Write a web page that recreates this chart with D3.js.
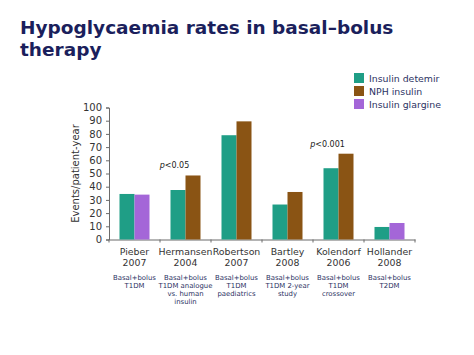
<!DOCTYPE html>
<html><head><meta charset="utf-8">
<script src="https://cdn.jsdelivr.net/npm/d3@7"></script>
<style>body{margin:0;background:#fff}svg{display:block}text{font-family:"DejaVu Sans",Verdana,sans-serif}</style>
</head><body>
<script>
const categories = ["Pieber", "Hermansen", "Robertson", "Bartley", "Kolendorf", "Hollander"];
const years = ["2007", "2004", "2007", "2008", "2006", "2008"];
const subLabels = [
  ["Basal+bolus", "T1DM"],
  ["Basal+bolus", "T1DM analogue", "vs. human", "insulin"],
  ["Basal+bolus", "T1DM", "paediatrics"],
  ["Basal+bolus", "T1DM 2-year", "study"],
  ["Basal+bolus", "T1DM", "crossover"],
  ["Basal+bolus", "T2DM"]
];
const seriesNames = ["Insulin detemir", "NPH insulin", "Insulin glargine"];
const detemirValues = [34.5, 37.5, 79, 26.5, 54, 9.5];
const comparatorValues = [34, 48.5, 89.5, 36, 65, 12.5];
const comparatorSeries = ["Insulin glargine", "NPH insulin", "NPH insulin", "NPH insulin", "NPH insulin", "Insulin glargine"];
const yTicks = [0, 10, 20, 30, 40, 50, 60, 70, 80, 90, 100];
const pLabels = [{cat: "Hermansen", text: "0.05", y: 48.5}, {cat: "Kolendorf", text: "0.001", y: 65}];

const colors = {"Insulin detemir": "#1f9e86", "NPH insulin": "#8a5414", "Insulin glargine": "#a466d8"};
const W = 474, H = 355;
const svg = d3.select("body").append("svg").attr("width", W).attr("height", H);

// Title
const title = svg.append("text").attr("x", 20).attr("y", 34)
  .attr("fill", "#1b1f5c").attr("font-weight", "bold").attr("font-size", 18.5);
title.append("tspan").attr("x", 20).attr("y", 34).text("Hypoglycaemia rates in basal\u2013bolus");
title.append("tspan").attr("x", 20).attr("y", 56).text("therapy");

const x = d3.scaleBand().domain(categories).range([109, 415]).padding(0);
const y = d3.scaleLinear().domain([0, 100]).range([239.5, 107.5]);
const barW = 15;

const axisColor = "#6b6b6b";
// y axis
const yAxis = svg.append("g").attr("transform", "translate(109,0)")
  .call(d3.axisLeft(y).tickValues(yTicks).tickSize(3).tickPadding(4));
yAxis.select(".domain").attr("stroke", axisColor);
yAxis.selectAll(".tick line").attr("stroke", axisColor);
yAxis.selectAll(".tick text").attr("font-size", 10).attr("fill", "#333").attr("font-family", "DejaVu Sans, Verdana, sans-serif");

// x axis line & boundary ticks
const xAxis = svg.append("g").attr("transform", `translate(0,${y(0)})`)
  .call(d3.axisBottom(x).tickSize(0).tickFormat(""));
xAxis.select(".domain").attr("stroke", axisColor);
const bounds = categories.map(c => x(c)).concat([x.range()[1]]);
svg.append("g").selectAll("line").data(bounds).join("line")
  .attr("x1", d => d).attr("x2", d => d).attr("y1", y(0)).attr("y2", y(0) + 3)
  .attr("stroke", axisColor);

// bars
const groups = svg.append("g").selectAll("g").data(categories).join("g");
groups.append("rect")
  .attr("x", (d) => x(d) + x.bandwidth() / 2 - barW)
  .attr("width", barW)
  .attr("y", (d, i) => y(detemirValues[i]))
  .attr("height", (d, i) => y(0) - y(detemirValues[i]))
  .attr("fill", colors["Insulin detemir"]);
groups.append("rect")
  .attr("x", (d) => x(d) + x.bandwidth() / 2)
  .attr("width", barW)
  .attr("y", (d, i) => y(comparatorValues[i]))
  .attr("height", (d, i) => y(0) - y(comparatorValues[i]))
  .attr("fill", (d, i) => colors[comparatorSeries[i]]);

// category labels
groups.append("text").attr("x", d => x(d) + x.bandwidth() / 2).attr("y", 255)
  .attr("text-anchor", "middle").attr("font-size", 9.4).attr("fill", "#333")
  .text(d => d);
groups.append("text").attr("x", d => x(d) + x.bandwidth() / 2).attr("y", 265.5)
  .attr("text-anchor", "middle").attr("font-size", 9.4).attr("fill", "#333")
  .text((d, i) => years[i]);
groups.each(function(d, i) {
  const g = d3.select(this);
  subLabels[i].forEach((s, j) => {
    g.append("text").attr("x", x(d) + x.bandwidth() / 2).attr("y", 279.5 + j * 8.3)
      .attr("text-anchor", "middle").attr("font-size", 6.9).attr("fill", "#2c3263").text(s);
  });
});

// p-values
pLabels.forEach(p => {
  const t = svg.append("text").attr("x", x(p.cat) + x.bandwidth() / 2 - 11).attr("y", y(p.y) - 7)
    .attr("text-anchor", "middle").attr("font-size", 8).attr("fill", "#222");
  t.append("tspan").attr("font-style", "italic").text("p");
  t.append("tspan").text("<" + p.text);
});

// y label
svg.append("text").attr("transform", `translate(79,${(y(0) + y(100)) / 2}) rotate(-90)`)
  .attr("text-anchor", "middle").attr("font-size", 10).attr("fill", "#333")
  .text("Events/patient-year");

// legend
const leg = svg.append("g").selectAll("g").data(seriesNames).join("g")
  .attr("transform", (d, i) => `translate(354,${73 + i * 13})`);
leg.append("rect").attr("width", 10).attr("height", 10).attr("fill", d => colors[d]);
leg.append("text").attr("x", 15).attr("y", 8.8).attr("font-size", 9.4).attr("fill", "#2c3263").text(d => d);
</script>
</body></html>
